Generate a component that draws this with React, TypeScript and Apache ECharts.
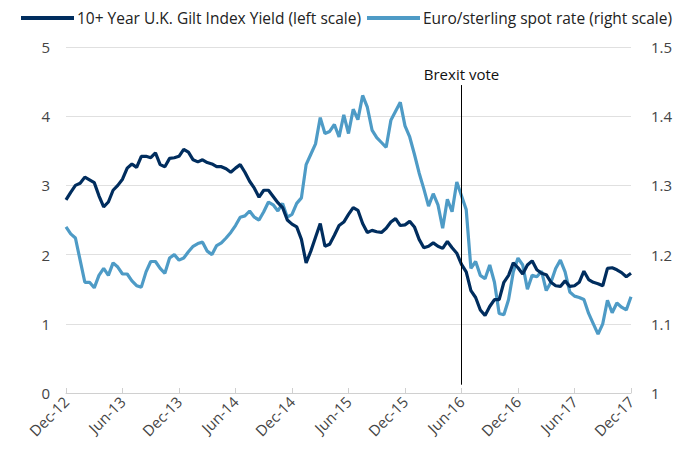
import React, { useEffect, useRef } from "react";
import * as echarts from "echarts";

const tickLabels = ["Dec-12", "Jun-13", "Dec-13", "Jun-14", "Dec-14", "Jun-15", "Dec-15", "Jun-16", "Dec-16", "Jun-17", "Dec-17"];

const giltYield = [
  2.79, 2.9, 3.0, 3.03, 3.12, 3.08, 3.04, 2.85, 2.69, 2.76, 2.93, 3.0,
  3.09, 3.25, 3.31, 3.26, 3.42, 3.42, 3.4, 3.47, 3.3, 3.27, 3.39, 3.4,
  3.42, 3.52, 3.48, 3.37, 3.34, 3.37, 3.33, 3.31, 3.27, 3.27, 3.24, 3.19,
  3.25, 3.3, 3.19, 3.06, 2.96, 2.83, 2.93, 2.93, 2.84, 2.75, 2.68, 2.5,
  2.44, 2.4, 2.22, 1.88, 2.05, 2.25, 2.45, 2.12, 2.15, 2.28, 2.42, 2.47,
  2.58, 2.68, 2.64, 2.45, 2.32, 2.35, 2.33, 2.32, 2.38, 2.47, 2.52, 2.42,
  2.43, 2.48, 2.4, 2.22, 2.1, 2.12, 2.17, 2.12, 2.09, 2.19, 2.1, 2.02,
  1.86, 1.75, 1.48, 1.38, 1.2, 1.12, 1.25, 1.35, 1.35, 1.6, 1.7, 1.88,
  1.81, 1.72, 1.85, 1.91, 1.78, 1.73, 1.71, 1.6, 1.55, 1.54, 1.62, 1.54,
  1.55, 1.6, 1.76, 1.64, 1.6, 1.58, 1.55, 1.8, 1.81, 1.78, 1.74, 1.68,
  1.73,
];

const euroSterling = [
  1.24, 1.23, 1.224, 1.192, 1.16, 1.16, 1.152, 1.17, 1.18, 1.17, 1.188, 1.182,
  1.172, 1.172, 1.162, 1.155, 1.153, 1.175, 1.19, 1.19, 1.18, 1.173, 1.195, 1.2,
  1.192, 1.195, 1.204, 1.212, 1.216, 1.218, 1.205, 1.2, 1.213, 1.217, 1.224, 1.232,
  1.242, 1.254, 1.256, 1.263, 1.254, 1.25, 1.262, 1.276, 1.272, 1.263, 1.274, 1.254,
  1.258, 1.274, 1.282, 1.33, 1.345, 1.36, 1.398, 1.375, 1.378, 1.388, 1.37, 1.402,
  1.375, 1.41, 1.395, 1.43, 1.413, 1.38, 1.369, 1.362, 1.355, 1.394, 1.407, 1.42,
  1.386, 1.37, 1.345, 1.318, 1.295, 1.27, 1.288, 1.272, 1.238, 1.28, 1.262, 1.305,
  1.285, 1.265, 1.18, 1.19, 1.17, 1.165, 1.185, 1.16, 1.115, 1.113, 1.135, 1.175,
  1.195, 1.185, 1.15, 1.17, 1.168, 1.176, 1.148, 1.16, 1.18, 1.192, 1.175, 1.146,
  1.14, 1.138, 1.135, 1.115, 1.1, 1.085, 1.1, 1.134, 1.116, 1.13, 1.124, 1.12,
  1.139,
];

const brexitIndex = 84;
const brexitLabel = "Brexit vote";

const seriesNames = ["10+ Year U.K. Gilt Index Yield (left scale)", "Euro/sterling spot rate (right scale)"];

// half-month category slots; every 12th slot carries a tick label
const categories = giltYield.map((_, i) => (i % 12 === 0 ? tickLabels[i / 12] : "p" + i));

export default function App() {
  const ref = useRef<HTMLDivElement>(null);
  useEffect(() => {
    document.body.style.margin = "0";
    if (!ref.current) return;
    const chart = echarts.init(ref.current, undefined, { renderer: "svg" });
    const font = "Open Sans";
    chart.setOption({
      animation: false,
      textStyle: { fontFamily: font },
      legend: {
        top: 5,
        left: 16,
        itemWidth: 53,
        itemHeight: 4,
        itemGap: 6,
        icon: "rect",
        textStyle: { fontFamily: font, fontSize: 15.5, color: "#222", padding: [0, 0, 0, -2] },
        data: seriesNames,
      },
      grid: { left: 66, right: 68, top: 47, bottom: 60, containLabel: false },
      xAxis: {
        type: "category",
        data: categories,
        boundaryGap: false,
        axisLine: { lineStyle: { color: "#d0d0d0" } },
        axisTick: { interval: 11, inside: true, length: 5, lineStyle: { color: "#d0d0d0" } },
        axisLabel: {
          interval: 11,
          rotate: 45,
          color: "#444",
          fontSize: 15,
          fontFamily: font,
          margin: 6,
        },
      },
      yAxis: [
        {
          type: "value",
          min: 0,
          max: 5,
          interval: 1,
          axisLine: { show: false },
          axisTick: { show: false },
          axisLabel: { color: "#444", fontSize: 15, fontFamily: font, margin: 16 },
          splitLine: { lineStyle: { color: "#e0e0e0" } },
        },
        {
          type: "value",
          min: 1,
          max: 1.5,
          interval: 0.1,
          axisLine: { show: false },
          axisTick: { show: false },
          axisLabel: {
            color: "#444",
            fontSize: 15,
            fontFamily: font,
            margin: 20,
            formatter: (v: number) => String(Math.round(v * 10) / 10),
          },
          splitLine: { show: false },
        },
      ],
      series: [
        {
          name: seriesNames[1],
          type: "line",
          yAxisIndex: 1,
          data: euroSterling,
          showSymbol: false,
          symbol: "none",
          lineStyle: { color: "#4e9bc6", width: 3.2 },
          itemStyle: { color: "#4e9bc6" },
          z: 2,
        },
        {
          name: seriesNames[0],
          type: "line",
          yAxisIndex: 0,
          data: giltYield,
          showSymbol: false,
          symbol: "none",
          lineStyle: { color: "#002d5e", width: 3.2 },
          itemStyle: { color: "#002d5e" },
          z: 3,
          markLine: {
            silent: true,
            symbol: ["none", "none"],
            lineStyle: { color: "#000", width: 1, type: "solid" },
            label: {
              show: true,
              position: "start",
              formatter: brexitLabel,
              color: "#111",
              fontSize: 15,
              fontFamily: font,
              distance: 4,
            },
            data: [
              [
                { coord: [categories[brexitIndex], 4.45] },
                { coord: [categories[brexitIndex], 0.12] },
              ],
            ],
          },
        },
      ],
    });
    return () => chart.dispose();
  }, []);
  return <div ref={ref} style={{ width: 699, height: 453 }} />;
}
